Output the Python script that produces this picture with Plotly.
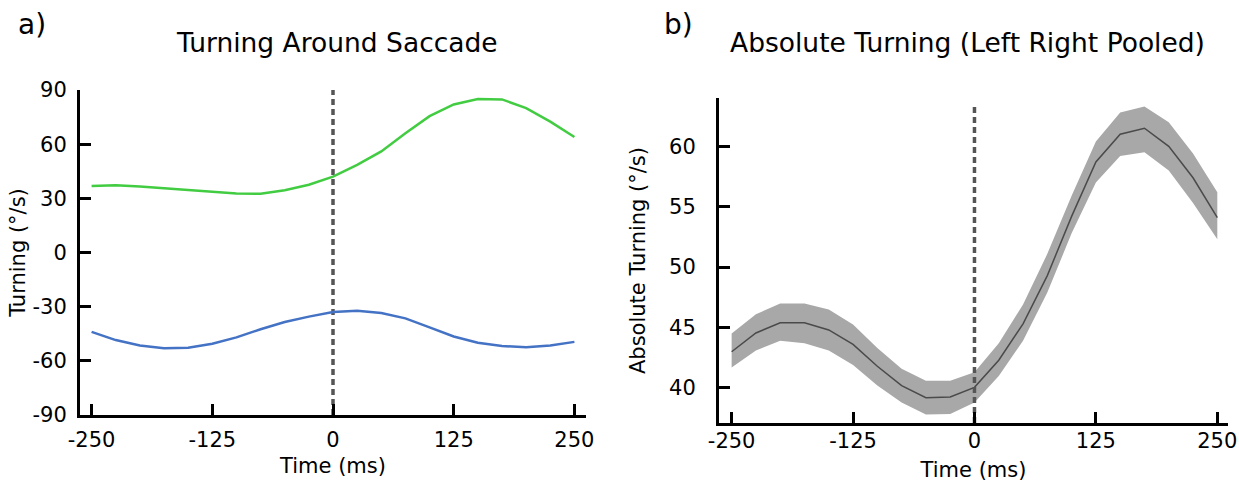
import plotly.graph_objects as go

# ---- data ----
time_ms = [-250, -225, -200, -175, -150, -125, -100, -75, -50, -25, 0,
           25, 50, 75, 100, 125, 150, 175, 200, 225, 250]
left_turn = [36.8, 37.2, 36.5, 35.5, 34.5, 33.5, 32.7, 32.5, 34.5, 37.5, 42,
             48.5, 56, 66, 75.5, 82, 85, 84.8, 80, 72.5, 64]
right_turn = [-44, -48.5, -51.5, -53, -52.8, -50.5, -47, -42.5, -38.5, -35.5, -33,
              -32.3, -33.5, -36.5, -41.5, -46.5, -50, -51.8, -52.5, -51.5, -49.5]
abs_mean = [43.0, 44.55, 45.4, 45.4, 44.8, 43.6, 41.8, 40.2, 39.2, 39.25, 40.05,
            42.3, 45.3, 49.3, 54.2, 58.7, 61.0, 61.5, 60.0, 57.4, 54.1]
abs_upper = [44.5, 46.1, 47.0, 47.0, 46.5, 45.25, 43.3, 41.6, 40.6, 40.6, 41.3,
             43.7, 46.9, 51.1, 55.9, 60.4, 62.8, 63.3, 62.0, 59.4, 56.2]
abs_lower = [41.7, 43.1, 43.9, 43.7, 43.1, 41.9, 40.2, 38.8, 37.8, 37.85, 38.8,
             41.0, 43.9, 47.9, 52.8, 57.0, 59.2, 59.5, 58.0, 55.3, 52.3]

x_ticks = [-250, -125, 0, 125, 250]
x_ticklabels = ["-250", "-125", "0", "125", "250"]
yl_ticks = [-90, -60, -30, 0, 30, 60, 90]
yl_ticklabels = ["-90", "-60", "-30", "0", "30", "60", "90"]
yr_ticks = [40, 45, 50, 55, 60]
yr_ticklabels = ["40", "45", "50", "55", "60"]

FONT = "DejaVu Sans"
W, H = 1239, 482
TICK_SIZE = 21
LABEL_SIZE = 21

fig = go.Figure()

# left panel
fig.add_trace(go.Scatter(x=[0, 0], y=[-90, 90], mode="lines", xaxis="x", yaxis="y",
                         line=dict(color="#555555", width=3.5, dash="6px,4px"),
                         showlegend=False, hoverinfo="skip"))
fig.add_trace(go.Scatter(x=time_ms, y=left_turn, mode="lines", xaxis="x", yaxis="y",
                         line=dict(color="#42cc42", width=2.5), showlegend=False))
fig.add_trace(go.Scatter(x=time_ms, y=right_turn, mode="lines", xaxis="x", yaxis="y",
                         line=dict(color="#4472c4", width=2.5), showlegend=False))

# right panel
fig.add_trace(go.Scatter(x=time_ms, y=abs_upper, mode="lines", xaxis="x2", yaxis="y2",
                         line=dict(width=0, color="#a8a8a8"), showlegend=False,
                         hoverinfo="skip"))
fig.add_trace(go.Scatter(x=time_ms, y=abs_lower, mode="lines", xaxis="x2", yaxis="y2",
                         line=dict(width=0, color="#a8a8a8"), fill="tonexty",
                         fillcolor="#a8a8a8", showlegend=False, hoverinfo="skip"))
fig.add_trace(go.Scatter(x=time_ms, y=abs_mean, mode="lines", xaxis="x2", yaxis="y2",
                         line=dict(color="#4a4a4a", width=1.5), showlegend=False))
fig.add_trace(go.Scatter(x=[0, 0], y=[37.1, 63.4], mode="lines", xaxis="x2", yaxis="y2",
                         line=dict(color="#555555", width=3.5, dash="6px,4px"),
                         showlegend=False, hoverinfo="skip"))

axis_common = dict(showline=True, linewidth=3, linecolor="black", ticks="inside",
                   ticklen=11, tickwidth=3, tickcolor="black", showgrid=False,
                   zeroline=False,
                   tickfont=dict(family=FONT, size=TICK_SIZE, color="black"),
                   automargin=False)
title_font = dict(family=FONT, size=LABEL_SIZE, color="black")

fig.update_layout(
    width=W, height=H, plot_bgcolor="white", paper_bgcolor="white",
    margin=dict(l=0, r=0, t=0, b=0),
    xaxis=dict(domain=[80 / W, 586 / W], range=[-262, 262], tickvals=x_ticks,
               ticktext=x_ticklabels, anchor="y", ticklabelstandoff=4,
               title=dict(text="Time (ms)", font=title_font, standoff=8), **axis_common),
    yaxis=dict(domain=[(H - 415) / H, (H - 90) / H], range=[-90, 90], tickvals=yl_ticks,
               ticktext=yl_ticklabels, anchor="x", ticklabelstandoff=6,
               title=dict(text="Turning (°/s)", font=title_font, standoff=2), **axis_common),
    xaxis2=dict(domain=[719 / W, 1228 / W], range=[-263, 261], tickvals=x_ticks,
                ticktext=x_ticklabels, anchor="y2", ticklabelstandoff=-3,
                title=dict(text="Time (ms)", font=title_font, standoff=14), **axis_common),
    yaxis2=dict(domain=[(H - 423) / H, (H - 98) / H], range=[37.1, 64.0], tickvals=yr_ticks,
                ticktext=yr_ticklabels, anchor="x2", ticklabelstandoff=16,
                title=dict(text="Absolute Turning (°/s)", font=title_font, standoff=18),
                **axis_common),
    annotations=[
        dict(text="a)", x=32 / W, y=(H - 24) / H, xref="paper", yref="paper",
             xanchor="center", yanchor="middle", showarrow=False,
             font=dict(family=FONT, size=28, color="black")),
        dict(text="Turning Around Saccade", x=337 / W, y=(H - 42) / H, xref="paper",
             yref="paper", xanchor="center", yanchor="middle", showarrow=False,
             font=dict(family=FONT, size=26.5, color="black")),
        dict(text="b)", x=678 / W, y=(H - 24) / H, xref="paper", yref="paper",
             xanchor="center", yanchor="middle", showarrow=False,
             font=dict(family=FONT, size=28, color="black")),
        dict(text="Absolute Turning (Left Right Pooled)", x=967 / W, y=(H - 42) / H,
             xref="paper", yref="paper", xanchor="center", yanchor="middle",
             showarrow=False, font=dict(family=FONT, size=26.5, color="black")),
    ],
)

fig.write_html("out.html", config={"displayModeBar": False},
               post_script="document.body.style.margin='0';document.body.style.overflow='hidden';")
